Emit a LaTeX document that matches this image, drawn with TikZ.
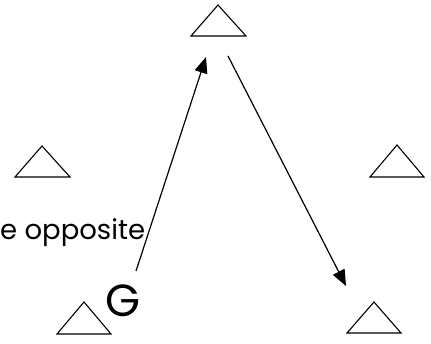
\documentclass[tikz,border=0pt]{standalone}
\usepackage{fontspec}
\setmainfont{Poppins}
\usetikzlibrary{arrows.meta}
\begin{document}
\begin{tikzpicture}[x=1pt,y=-1pt,
  tri/.style={line width=1.1pt, line join=miter},
  arr/.style={line width=1.2pt, -{Triangle[length=16pt,width=13pt]}},
  lbl/.style={inner sep=0pt, anchor=base west}]
\useasboundingbox (0,0) rectangle (431,344);
% triangles
\draw[tri] (191,36) -- (218,5) -- (246,36) -- cycle;
\draw[tri] (15,177) -- (42,146) -- (70,177) -- cycle;
\draw[tri] (370,177) -- (397,145) -- (424,177) -- cycle;
\draw[tri] (57,334) -- (84,302) -- (111,334) -- cycle;
\draw[tri] (347,333) -- (374,302) -- (401,333) -- cycle;
% labels
\node[lbl, font=\fontsize{27.5}{32}\selectfont] (opp) at (0,240) {e opposite};
\node[lbl, font=\fontsize{45}{50}\selectfont] (g) at (105,317) {G};
% arrows
\coordinate (a1s) at (136,271);
\coordinate (a1e) at (206,57);
\coordinate (a2s) at (228,56);
\coordinate (a2e) at (346,286);
\draw[arr] (a1s) -- (a1e);
\draw[arr] (a2s) -- (a2e);
\end{tikzpicture}
\end{document}
